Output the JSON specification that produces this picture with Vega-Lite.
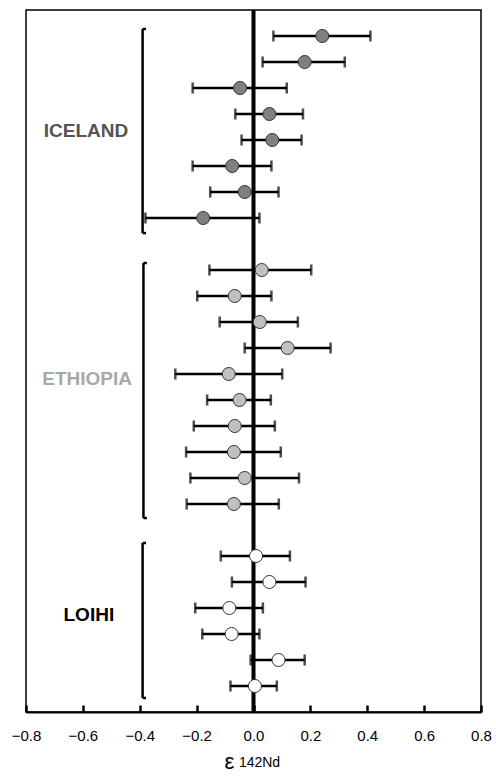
{
  "$schema": "https://vega.github.io/schema/vega-lite/v6.json",
  "width": 455,
  "height": 702,
  "autosize": {"type": "none"},
  "padding": {"left": 26, "top": 10, "right": 15, "bottom": 65},
  "background": "white",
  "title": {"text": "142Nd", "orient": "bottom", "anchor": "middle", "dx": 6, "dy": -26, "fontSize": 14, "font": "Liberation Sans", "fontWeight": "normal", "color": "#000", "offset": 10},
  "config": {
    "view": {"stroke": "#000", "strokeWidth": 1.5},
    "font": "Liberation Sans"
  },
  "datasets": {
    "pts": [
      {"group": "Iceland", "r": 1, "v": 0.242, "lo": 0.070, "hi": 0.411},
      {"group": "Iceland", "r": 2, "v": 0.180, "lo": 0.032, "hi": 0.321},
      {"group": "Iceland", "r": 3, "v": -0.047, "lo": -0.214, "hi": 0.117},
      {"group": "Iceland", "r": 4, "v": 0.056, "lo": -0.064, "hi": 0.174},
      {"group": "Iceland", "r": 5, "v": 0.066, "lo": -0.042, "hi": 0.169},
      {"group": "Iceland", "r": 6, "v": -0.075, "lo": -0.214, "hi": 0.063},
      {"group": "Iceland", "r": 7, "v": -0.031, "lo": -0.152, "hi": 0.088},
      {"group": "Iceland", "r": 8, "v": -0.177, "lo": -0.380, "hi": 0.021},
      {"group": "Ethiopia", "r": 10, "v": 0.029, "lo": -0.155, "hi": 0.203},
      {"group": "Ethiopia", "r": 11, "v": -0.066, "lo": -0.198, "hi": 0.063},
      {"group": "Ethiopia", "r": 12, "v": 0.022, "lo": -0.119, "hi": 0.156},
      {"group": "Ethiopia", "r": 13, "v": 0.120, "lo": -0.031, "hi": 0.271},
      {"group": "Ethiopia", "r": 14, "v": -0.087, "lo": -0.275, "hi": 0.101},
      {"group": "Ethiopia", "r": 15, "v": -0.049, "lo": -0.163, "hi": 0.061},
      {"group": "Ethiopia", "r": 16, "v": -0.066, "lo": -0.210, "hi": 0.075},
      {"group": "Ethiopia", "r": 17, "v": -0.069, "lo": -0.237, "hi": 0.096},
      {"group": "Ethiopia", "r": 18, "v": -0.031, "lo": -0.222, "hi": 0.160},
      {"group": "Ethiopia", "r": 19, "v": -0.069, "lo": -0.235, "hi": 0.089},
      {"group": "Loihi", "r": 21, "v": 0.009, "lo": -0.115, "hi": 0.128},
      {"group": "Loihi", "r": 22, "v": 0.056, "lo": -0.076, "hi": 0.183},
      {"group": "Loihi", "r": 23, "v": -0.085, "lo": -0.205, "hi": 0.033},
      {"group": "Loihi", "r": 24, "v": -0.077, "lo": -0.180, "hi": 0.021},
      {"group": "Loihi", "r": 25, "v": 0.088, "lo": -0.010, "hi": 0.180},
      {"group": "Loihi", "r": 26, "v": 0.005, "lo": -0.081, "hi": 0.082}
    ],
    "brackets": [
      {"group": "Iceland", "bx": -0.39, "bx2": -0.378, "top": 0.73, "bottom": 8.58},
      {"group": "Ethiopia", "bx": -0.387, "bx2": -0.375, "top": 9.73, "bottom": 19.54},
      {"group": "Loihi", "bx": -0.39, "bx2": -0.378, "top": 20.5, "bottom": 26.46}
    ],
    "labels": [
      {"group": "Iceland", "label": "ICELAND", "lx": -0.589, "lr": 4.65},
      {"group": "Ethiopia", "label": "ETHIOPIA", "lx": -0.585, "lr": 14.2},
      {"group": "Loihi", "label": "LOIHI", "lx": -0.579, "lr": 23.27}
    ]
  },
  "layer": [
    {
      "data": {"name": "brackets"},
      "mark": {"type": "rule", "strokeWidth": 2.5, "color": "#000"},
      "encoding": {
        "x": {"field": "bx", "type": "quantitative", "scale": {"domain": [-0.8, 0.8], "nice": false, "zero": false},
          "axis": {"orient": "bottom", "values": [-0.8, -0.6, -0.4, -0.2, 0, 0.2, 0.4, 0.6, 0.8], "format": ".1f", "grid": false,
            "domainColor": "#000", "domainWidth": 2, "tickColor": "#000", "tickWidth": 2.5, "tickSize": -7,
            "labelFontSize": 15, "labelColor": "#000", "labelFont": "Liberation Sans", "labelPadding": 23, "labelFlush": false,
            "title": "ε", "titleFontSize": 22, "titleFont": "Liberation Sans", "titleFontWeight": "normal", "titleColor": "#000",
            "titleX": 203, "titleY": 56, "titleBaseline": "alphabetic", "titleAlign": "center"}},
        "y": {"field": "top", "type": "quantitative", "scale": {"domain": [0, 27], "reverse": true, "nice": false, "zero": false}, "axis": null},
        "y2": {"field": "bottom"}
      }
    },
    {
      "data": {"name": "brackets"},
      "mark": {"type": "rule", "strokeWidth": 2.5, "color": "#000"},
      "encoding": {
        "x": {"field": "bx", "type": "quantitative"},
        "x2": {"field": "bx2"},
        "y": {"field": "top", "type": "quantitative"}
      }
    },
    {
      "data": {"name": "brackets"},
      "mark": {"type": "rule", "strokeWidth": 2.5, "color": "#000"},
      "encoding": {
        "x": {"field": "bx", "type": "quantitative"},
        "x2": {"field": "bx2"},
        "y": {"field": "bottom", "type": "quantitative"}
      }
    },
    {
      "data": {"name": "labels"},
      "mark": {"type": "text", "fontSize": 19, "fontWeight": "bold", "font": "Liberation Sans", "align": "center", "baseline": "middle"},
      "encoding": {
        "x": {"field": "lx", "type": "quantitative"},
        "y": {"field": "lr", "type": "quantitative"},
        "text": {"field": "label"},
        "color": {"field": "group", "type": "nominal", "scale": {"domain": ["Iceland", "Ethiopia", "Loihi"], "range": ["#555555", "#a8a8a8", "#000000"]}, "legend": null}
      }
    },
    {
      "data": {"values": [{"z": 0}]},
      "mark": {"type": "rule", "strokeWidth": 4, "color": "#000"},
      "encoding": {"x": {"field": "z", "type": "quantitative"}}
    },
    {
      "data": {"name": "pts"},
      "mark": {"type": "rule", "strokeWidth": 2.5, "color": "#000"},
      "encoding": {
        "x": {"field": "lo", "type": "quantitative"},
        "x2": {"field": "hi"},
        "y": {"field": "r", "type": "quantitative"}
      }
    },
    {
      "data": {"name": "pts"},
      "mark": {"type": "tick", "orient": "vertical", "size": 11, "thickness": 2.5, "color": "#000"},
      "encoding": {
        "x": {"field": "lo", "type": "quantitative"},
        "y": {"field": "r", "type": "quantitative"}
      }
    },
    {
      "data": {"name": "pts"},
      "mark": {"type": "tick", "orient": "vertical", "size": 11, "thickness": 2.5, "color": "#000"},
      "encoding": {
        "x": {"field": "hi", "type": "quantitative"},
        "y": {"field": "r", "type": "quantitative"}
      }
    },
    {
      "data": {"name": "pts"},
      "mark": {"type": "point", "shape": "circle", "filled": true, "size": 170, "stroke": "#333333", "strokeWidth": 1, "opacity": 1},
      "encoding": {
        "x": {"field": "v", "type": "quantitative"},
        "y": {"field": "r", "type": "quantitative"},
        "fill": {"field": "group", "type": "nominal", "scale": {"domain": ["Iceland", "Ethiopia", "Loihi"], "range": ["#808080", "#c0c0c0", "#ffffff"]}, "legend": null}
      }
    }
  ]
}
